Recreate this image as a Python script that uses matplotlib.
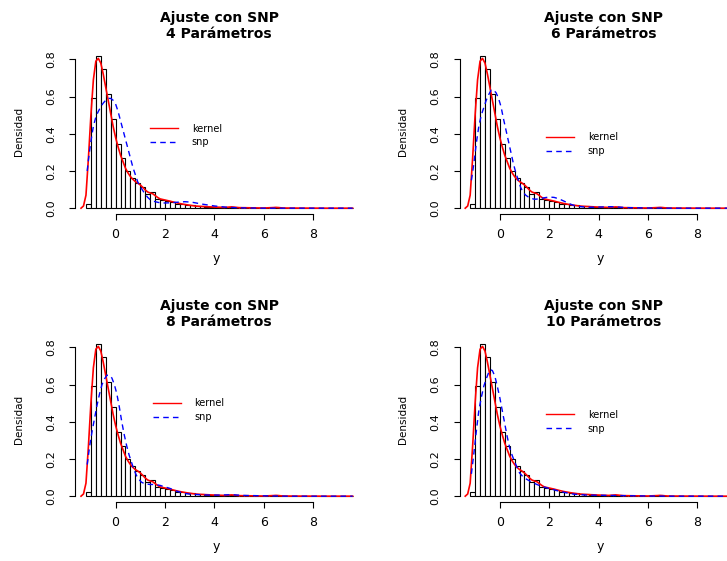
import numpy as np
import matplotlib.pyplot as plt
from matplotlib.lines import Line2D

plt.rcParams['font.family'] = ['DejaVu Sans']

# histogram densities, bins of width 0.2 starting at -1.2
bin_start = -1.2
bin_width = 0.2
dens = [0.025, 0.59, 0.82, 0.75, 0.615, 0.48, 0.345, 0.27, 0.20, 0.16,
        0.135, 0.115, 0.075, 0.085, 0.05, 0.045, 0.04, 0.035, 0.025, 0.025,
        0.018, 0.015, 0.01, 0.01, 0.008, 0.006, 0.005, 0.004, 0.003, 0.008,
        0.003, 0.002, 0.002, 0.001, 0.001, 0.001, 0.0, 0.001, 0.005, 0.0,
        0.001, 0.0, 0.0, 0.0, 0.0, 0.0, 0.0, 0.0, 0.0, 0.0,
        0.0, 0.0, 0.0, 0.001]

# kernel density estimate
kern_x = [-1.4, -1.3, -1.2, -1.1, -1.0, -0.9, -0.8, -0.7, -0.6, -0.5,
          -0.4, -0.3, -0.2, -0.1, 0.0, 0.1, 0.2, 0.3, 0.4, 0.5,
          0.6, 0.7, 0.8, 0.9, 1.0, 1.1, 1.2, 1.3, 1.4, 1.5,
          1.6, 1.7, 1.8, 2.0, 2.2, 2.4, 2.6, 2.8, 3.0, 3.2,
          3.4, 3.7, 4.0, 4.4, 4.7, 5.0, 5.5, 6.0, 6.5, 6.8,
          7.5, 8.5, 9.6]
kern_y = [0.0, 0.012, 0.07, 0.27, 0.50, 0.69, 0.79, 0.805, 0.78, 0.72,
          0.65, 0.58, 0.51, 0.44, 0.38, 0.33, 0.285, 0.25, 0.215, 0.19,
          0.17, 0.155, 0.143, 0.135, 0.125, 0.112, 0.098, 0.087, 0.082, 0.078,
          0.068, 0.058, 0.05, 0.044, 0.038, 0.031, 0.025, 0.02, 0.016, 0.012,
          0.01, 0.008, 0.006, 0.004, 0.007, 0.003, 0.002, 0.001, 0.004, 0.001,
          0.0005, 0.0, 0.0]

# SNP fits
snp4_x = [-1.15, -1.1, -1.0, -0.9, -0.8, -0.7, -0.6, -0.5, -0.4, -0.3,
          -0.2, -0.1, 0.0, 0.1, 0.2, 0.3, 0.4, 0.5, 0.6, 0.7,
          0.8, 0.9, 1.0, 1.1, 1.2, 1.3, 1.4, 1.6, 1.8, 2.0,
          2.2, 2.5, 2.8, 3.1, 3.5, 4.0, 4.5, 5.0, 6.0, 9.6]
snp4_y = [0.20, 0.26, 0.36, 0.44, 0.49, 0.52, 0.545, 0.565, 0.58, 0.59,
          0.59, 0.58, 0.56, 0.52, 0.47, 0.42, 0.37, 0.32, 0.27, 0.22,
          0.18, 0.14, 0.115, 0.095, 0.075, 0.058, 0.046, 0.035, 0.029, 0.028,
          0.029, 0.032, 0.035, 0.032, 0.022, 0.012, 0.005, 0.002, 0.0, 0.0]

snp6_x = [-1.15, -1.05, -0.95, -0.85, -0.75, -0.65, -0.55, -0.45, -0.35, -0.25,
          -0.15, -0.05, 0.05, 0.15, 0.25, 0.35, 0.45, 0.55, 0.65, 0.75,
          0.85, 0.95, 1.05, 1.2, 1.4, 1.6, 1.8, 2.0, 2.2, 2.4,
          2.6, 2.8, 3.0, 3.3, 3.6, 4.0, 4.5, 4.8, 5.2, 6.0,
          7.0, 9.6]
snp6_y = [0.15, 0.24, 0.35, 0.44, 0.50, 0.54, 0.58, 0.61, 0.635, 0.635,
          0.62, 0.59, 0.545, 0.48, 0.42, 0.36, 0.30, 0.24, 0.19, 0.15,
          0.11, 0.085, 0.07, 0.056, 0.048, 0.05, 0.056, 0.06, 0.058, 0.05,
          0.038, 0.025, 0.015, 0.008, 0.005, 0.006, 0.008, 0.006, 0.003, 0.001,
          0.0, 0.0]

snp8_x = [-1.15, -1.05, -0.95, -0.85, -0.75, -0.65, -0.55, -0.45, -0.35, -0.25,
          -0.15, -0.05, 0.05, 0.15, 0.25, 0.35, 0.45, 0.55, 0.65, 0.75,
          0.85, 0.95, 1.05, 1.2, 1.4, 1.6, 1.8, 2.0, 2.2, 2.4,
          2.6, 2.8, 3.0, 3.4, 3.8, 4.2, 4.7, 5.2, 6.0, 7.0,
          9.6]
snp8_y = [0.17, 0.27, 0.35, 0.42, 0.49, 0.55, 0.60, 0.63, 0.65, 0.65,
          0.635, 0.60, 0.55, 0.48, 0.40, 0.33, 0.27, 0.22, 0.18, 0.14,
          0.11, 0.09, 0.075, 0.066, 0.063, 0.063, 0.058, 0.05, 0.042, 0.03,
          0.022, 0.015, 0.011, 0.008, 0.006, 0.006, 0.008, 0.004, 0.002, 0.0,
          0.0]

snp10_x = [-1.15, -1.05, -0.95, -0.85, -0.75, -0.65, -0.55, -0.45, -0.38, -0.3,
           -0.2, -0.1, 0.0, 0.1, 0.2, 0.3, 0.4, 0.5, 0.6, 0.7,
           0.8, 0.9, 1.0, 1.1, 1.3, 1.5, 1.7, 1.9, 2.1, 2.4,
           2.7, 3.0, 3.5, 4.0, 4.5, 5.0, 6.0, 7.0, 9.6]
snp10_y = [0.12, 0.23, 0.35, 0.46, 0.53, 0.59, 0.63, 0.665, 0.68, 0.675,
           0.645, 0.59, 0.53, 0.46, 0.39, 0.32, 0.26, 0.22, 0.185, 0.155,
           0.125, 0.11, 0.098, 0.09, 0.075, 0.063, 0.053, 0.045, 0.038, 0.027,
           0.018, 0.011, 0.006, 0.005, 0.004, 0.003, 0.001, 0.0, 0.0]

n_params = [4, 6, 8, 10]
snp_xs = [snp4_x, snp6_x, snp8_x, snp10_x]
snp_ys = [snp4_y, snp6_y, snp8_y, snp10_y]

W, H = 727, 561
# plot regions in pixels: left, top, width, height
regions = [(75.3, 49.5, 288, 164.8), (459.5, 49.5, 288, 164.8),
           (75.3, 337.5, 288, 164.8), (459.5, 337.5, 288, 164.8)]
# legend anchor (axes fraction) for each panel
leg_pos = [(0.259, 0.478), (0.300, 0.425), (0.269, 0.560), (0.300, 0.489)]

dash = (0, (4, 3))
fig = plt.figure(figsize=(W / 100, H / 100), dpi=100)

lefts = bin_start + bin_width * np.arange(len(dens))

for i in range(4):
    l, t, w, h = regions[i]
    ax = fig.add_axes([l / W, 1 - (t + h) / H, w / W, h / H])

    ax.bar(lefts, dens, width=bin_width, align='edge', color='white',
           edgecolor='black', linewidth=0.8)
    ax.plot(kern_x, kern_y, color='red', lw=1.2)
    ax.plot(snp_xs[i], snp_ys[i], color='blue', lw=1.0, ls=dash)

    ax.set_xlim(-1.632, 10.032)
    ax.set_ylim(-0.0328, 0.8528)

    for s in ['top', 'right']:
        ax.spines[s].set_visible(False)
    ax.spines['left'].set_bounds(0, 0.8)
    ax.spines['bottom'].set_bounds(0, 8)
    for s in ['left', 'bottom']:
        ax.spines[s].set_linewidth(0.8)

    ax.set_xticks([0, 2, 4, 6, 8])
    ax.set_yticks([0, 0.2, 0.4, 0.6, 0.8])
    ax.set_yticklabels(['0.0', '0.2', '0.4', '0.6', '0.8'], rotation=90,
                       va='center')
    ax.tick_params(axis='x', direction='out', length=4.6, width=0.8,
                   labelsize=9, pad=5.5)
    ax.tick_params(axis='y', direction='out', length=4.6, width=0.8,
                   labelsize=8, pad=9)

    ax.set_title('Ajuste con SNP\n%d Parámetros' % n_params[i],
                 fontweight='bold', fontsize=10, pad=8)
    ax.set_ylabel('Densidad', fontsize=7.5)
    ax.yaxis.set_label_coords(-0.178, 0.5)
    ax.set_xlabel('y', fontsize=9)
    ax.xaxis.set_label_coords(0.49, -0.229)

    handles = [Line2D([], [], color='red', lw=1.0),
               Line2D([], [], color='blue', lw=1.0, ls=dash)]
    ax.legend(handles, ['kernel', 'snp'], loc='center left',
              bbox_to_anchor=leg_pos[i], frameon=False, fontsize=7,
              handlelength=2.9, handletextpad=1.4, labelspacing=0.4,
              borderpad=0, borderaxespad=0)

fig.savefig('out.png', dpi=100)
